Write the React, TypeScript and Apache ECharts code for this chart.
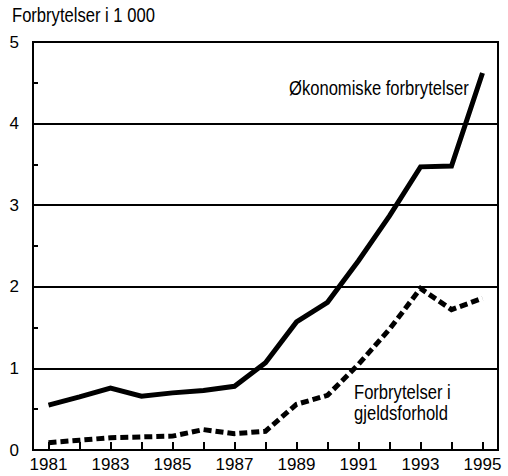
import React, { useEffect, useRef } from "react";
import * as echarts from "echarts";

const years = ["1981","1982","1983","1984","1985","1986","1987","1988","1989","1990","1991","1992","1993","1994","1995"];
const okonomiske = [0.55, 0.65, 0.76, 0.66, 0.70, 0.73, 0.78, 1.07, 1.57, 1.81, 2.32, 2.87, 3.47, 3.48, 4.62];
const gjeldsforhold = [0.09, 0.12, 0.15, 0.16, 0.17, 0.25, 0.20, 0.23, 0.56, 0.67, 1.05, 1.48, 1.98, 1.72, 1.86];
const titleText = "Forbrytelser i 1 000";
const label1 = "Økonomiske forbrytelser";
const label2a = "Forbrytelser i";
const label2b = "gjeldsforhold";

const FONT = "'Liberation Sans', Arial, Helvetica, sans-serif";
const SX = 0.83;

function condensedText(text: string, x: number, y: number) {
  return {
    type: "text",
    x,
    y,
    scaleX: SX,
    style: { text, x: 0, y: 0, font: `20px ${FONT}`, fill: "#000", verticalAlign: "middle", align: "left" },
  };
}

export default function App() {
  const ref = useRef<HTMLDivElement>(null);
  useEffect(() => {
    const chart = echarts.init(ref.current!, null, { renderer: "svg" });
    chart.setOption({
      animation: false,
      backgroundColor: "#fff",
      textStyle: { fontFamily: FONT, color: "#000" },
      grid: {
        left: 33, right: 10, top: 42, bottom: 26,
        show: true, borderColor: "#000", borderWidth: 2, backgroundColor: "transparent",
      },
      xAxis: {
        type: "category",
        data: years,
        boundaryGap: true,
        axisLine: { lineStyle: { color: "#000", width: 2 } },
        axisTick: { show: true, inside: true, length: 8, alignWithLabel: true, interval: 0, lineStyle: { color: "#000", width: 2 } },
        axisLabel: { interval: 1, fontFamily: FONT, fontSize: 17, color: "#000", margin: 6 },
        splitLine: { show: false },
      },
      yAxis: {
        type: "value",
        min: 0, max: 5, interval: 1,
        axisLine: { show: true, lineStyle: { color: "#000", width: 2 } },
        axisTick: { show: true, inside: true, length: 5, lineStyle: { color: "#000", width: 2 } },
        minorTick: { show: true, splitNumber: 2, length: 5, lineStyle: { color: "#000", width: 2 } },
        axisLabel: { fontFamily: FONT, fontSize: 17, color: "#000", margin: 14 },
        splitLine: { show: true, lineStyle: { color: "#000", width: 2 } },
      },
      series: [
        {
          type: "line",
          name: label1,
          data: okonomiske,
          symbol: "none",
          lineStyle: { color: "#000", width: 5, cap: "butt", join: "miter" },
          z: 5,
        },
        {
          type: "line",
          name: label2a + " " + label2b,
          data: gjeldsforhold,
          symbol: "none",
          lineStyle: { color: "#000", width: 5, type: [8, 4], cap: "butt", join: "miter" },
          z: 5,
        },
      ],
      graphic: [
        condensedText(titleText, 12, 15),
        condensedText(label1, 289, 88),
        condensedText(label2a, 354, 392),
        condensedText(label2b, 354, 413),
      ],
    });
    return () => chart.dispose();
  }, []);
  return <div ref={ref} style={{ width: 508, height: 476, position: "absolute", left: 0, top: 0 }} />;
}
